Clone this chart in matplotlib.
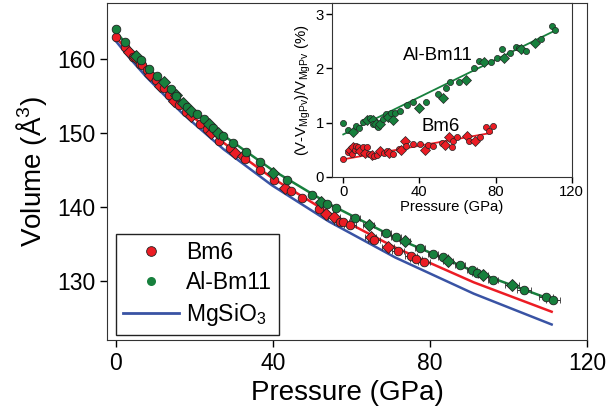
import matplotlib
matplotlib.use("Agg")
import matplotlib.pyplot as plt
from matplotlib.lines import Line2D

plt.rcParams['font.family'] = ['Liberation Sans', 'DejaVu Sans']
plt.rcParams['mathtext.fontset'] = 'custom'
plt.rcParams['mathtext.rm'] = 'Liberation Sans'
plt.rcParams['mathtext.it'] = 'Liberation Sans:italic'

RED = '#ec1c24'
GREEN = '#17803d'
BLUE = '#3953a4'

# Bm6 data: pressure (GPa), volume (A^3), excess volume (%), marker shape
bm6_p = [0, 2.3, 3.5, 4.4, 4.9, 6.1, 6.7, 7.9, 8.8, 10.2, 11.4, 12.3, 13.5, 14.9, 16.1,
         17.9, 19.3, 21.4, 23.2, 24.2, 26.3, 29.1, 30.4, 32.5, 33.0, 36.8, 40.4, 43.0,
         44.7, 47.4, 51.8, 53.5, 55.6, 57.0, 57.9, 59.6, 64.9, 65.8, 69.3, 71.9, 75.1,
         76.5, 78.6]
bm6_v = [162.9, 161.6, 160.9, 160.2, 160.2, 159.3, 159.1, 158.4, 157.8, 157.1, 156.3,
         156.0, 155.1, 154.3, 153.7, 152.8, 152.3, 151.2, 150.5, 149.9, 148.9, 147.9,
         147.3, 146.8, 146.4, 145.0, 143.6, 142.5, 142.1, 141.2, 139.7, 139.1, 138.7,
         138.0, 137.9, 137.5, 136.0, 135.6, 134.6, 134.0, 133.4, 133.0, 132.6]
bm6_dv = [0.33, 0.45, 0.49, 0.42, 0.55, 0.49, 0.57, 0.55, 0.48, 0.55, 0.44, 0.54, 0.42,
          0.40, 0.38, 0.40, 0.48, 0.44, 0.48, 0.43, 0.42, 0.52, 0.49, 0.66, 0.57, 0.60,
          0.60, 0.50, 0.58, 0.57, 0.62, 0.58, 0.73, 0.55, 0.65, 0.74, 0.75, 0.65, 0.66,
          0.74, 0.91, 0.85, 0.93]
bm6_shape = list("oodod" "ooodo" "doodo" "odood" "ooddo" "oodoo" "oddoo" "ododo" "ooo")
bm6_perr = [0] * 32 + [1.5] * 11

# Al-Bm11 data
albm_p = [0, 2.3, 5.3, 6.5, 8.4, 10.5, 12.3, 14.0, 15.4, 15.4, 17.2, 18.1, 19.3, 20.7,
          22.5, 23.7, 24.9, 26.0, 27.4, 29.8, 33.3, 36.8, 40.0, 43.5, 50.0, 52.3, 53.9,
          56.1, 60.9, 64.4, 68.8, 71.4, 73.7, 77.5, 80.7, 83.3, 84.7, 87.7, 90.7, 92.1,
          93.5, 96.0, 100.9, 103.9, 109.6, 111.4]
albm_v = [164.0, 162.3, 160.4, 159.8, 158.6, 157.7, 156.8, 155.9, 155.1, 155.0, 154.0,
          153.5, 153.0, 152.5, 151.8, 151.2, 150.7, 150.0, 149.5, 148.6, 147.4, 146.1,
          144.6, 143.6, 141.6, 140.7, 140.4, 139.9, 138.5, 137.5, 136.5, 136.0, 135.4,
          134.4, 133.7, 133.3, 132.7, 132.1, 131.5, 131.1, 130.8, 130.2, 129.4, 128.8,
          127.9, 127.4]
albm_dv = [1.00, 0.86, 0.83, 0.93, 0.89, 1.01, 1.05, 1.09, 1.05, 0.97, 0.98, 0.92, 0.97,
           1.06, 1.15, 1.11, 1.17, 1.05, 1.17, 1.21, 1.32, 1.38, 1.26, 1.38, 1.53, 1.46,
           1.63, 1.75, 1.75, 1.78, 2.00, 2.13, 2.11, 2.12, 2.20, 2.35, 2.20, 2.29, 2.40,
           2.37, 2.35, 2.32, 2.46, 2.55, 2.78, 2.71]
albm_shape = list("oodoo" "ododo" "dodoo" "dodoo" "oodoo" "doood" "oodoo" "odooo" "dodoo" "o")
albm_perr = [0] * 28 + [1.3] * 14 + [1.8] * 4

# EOS curves (main panel)
eos_p = [0, 3.75, 7.81, 16.88, 27.47, 39.80, 54.26, 71.20, 91.15, 111.0]
mgsio3_v = [162.4, 159.96, 157.53, 152.66, 147.78, 142.91, 138.04, 133.17, 128.30, 124.14]
bm6_fit_v = [162.94, 160.55, 158.17, 153.41, 148.65, 143.92, 139.21, 134.51, 129.83, 125.86]
albm_fit_v = [163.67, 161.31, 158.97, 154.29, 149.63, 145.01, 140.41, 135.84, 131.32, 127.48]

# linear fits (inset)
bm6_lin_p = [0, 78]
bm6_lin_dv = [0.32, 0.81]
albm_lin_p = [0, 112]
albm_lin_dv = [0.78, 2.71]

fig = plt.figure(figsize=(6.1, 4.17), dpi=100)
ax = fig.add_axes([0.1754, 0.1847, 0.7869, 0.8081])

ax.plot(eos_p, albm_fit_v, color=GREEN, lw=1.8, zorder=2)
ax.plot(eos_p, bm6_fit_v, color=RED, lw=1.8, zorder=2)
ax.plot(eos_p, mgsio3_v, color=BLUE, lw=1.8, zorder=2)

for p, v, s, e in zip(bm6_p, bm6_v, bm6_shape, bm6_perr):
    m = 'D' if s == 'd' else 'o'
    ax.errorbar(p, v, xerr=e if e else None, fmt=m, ms=6.6 if m == 'D' else 6.2,
                mfc=RED, mec='#222222', mew=0.6, ecolor='#333333', elinewidth=0.7,
                capsize=2, zorder=3)
for p, v, s, e in zip(albm_p, albm_v, albm_shape, albm_perr):
    m = 'D' if s == 'd' else 'o'
    ax.errorbar(p, v, xerr=e if e else None, fmt=m, ms=6.6 if m == 'D' else 6.2,
                mfc=GREEN, mec='#222222', mew=0.6, ecolor='#333333', elinewidth=0.7,
                capsize=2, zorder=4)

ax.set_xlim(-2.2, 120)
ax.set_ylim(122.05, 167.5)
ax.set_xticks([0, 40, 80, 120])
ax.set_yticks([130, 140, 150, 160])
ax.tick_params(direction='out', length=5, width=1, labelsize=16.5, top=False, right=False)
for sp in ax.spines.values():
    sp.set_color('#333333')
ax.set_xlabel('Pressure (GPa)', fontsize=20, labelpad=4)
ax.set_ylabel('Volume (Å$^3$)', fontsize=20, labelpad=6)

handles = [
    Line2D([], [], ls='none', marker='o', ms=7, mfc=RED, mec='#222222', mew=0.6),
    Line2D([], [], ls='none', marker='o', ms=6.5, mfc=GREEN, mec=GREEN, mew=0),
    Line2D([], [], color=BLUE, lw=2),
]
leg = ax.legend(handles, ['Bm6', 'Al-Bm11', 'MgSiO$_3$'], loc='lower left',
                bbox_to_anchor=(0.019, 0.015), borderaxespad=0, fontsize=16.5,
                frameon=True, fancybox=False, framealpha=1, edgecolor='#222222',
                handlelength=2.45, handletextpad=0.3, borderpad=0.3, labelspacing=0.3)
leg.get_frame().set_linewidth(1)

# inset
ins = fig.add_axes([0.5443, 0.5763, 0.3929, 0.4157])
ins.plot(albm_lin_p, albm_lin_dv, color=GREEN, lw=1.3, zorder=2)
ins.plot(bm6_lin_p, bm6_lin_dv, color=RED, lw=1.3, zorder=2)
for p, d, s in zip(bm6_p, bm6_dv, bm6_shape):
    m = 'D' if s == 'd' else 'o'
    ins.plot(p, d, m, ms=4.6 if m == 'D' else 4.4, mfc=RED, mec='#222222', mew=0.5, zorder=3)
for p, d, s in zip(albm_p, albm_dv, albm_shape):
    m = 'D' if s == 'd' else 'o'
    ins.plot(p, d, m, ms=4.6 if m == 'D' else 4.4, mfc=GREEN, mec='#222222', mew=0.5, zorder=3)
ins.set_xlim(-5.9, 120)
ins.set_ylim(0, 3.2)
ins.set_xticks([0, 40, 80, 120])
ins.set_yticks([0, 1, 2, 3])
ins.tick_params(direction='out', length=4, width=1, labelsize=10.7, pad=2, top=False, right=False)
for sp in ins.spines.values():
    sp.set_color('#333333')
ins.set_xlabel('Pressure (GPa)', fontsize=10.7, labelpad=1)
ins.set_ylabel('(V-V$_{\\mathrm{MgPv}}$)/V$_{\\mathrm{MgPv}}$ (%)', fontsize=10.7, labelpad=2)
ins.text(31.3, 2.24, 'Al-Bm11', fontsize=13.4, va='center')
ins.text(41.2, 0.92, 'Bm6', fontsize=13.4, va='center')

fig.savefig('out.png', dpi=100)
